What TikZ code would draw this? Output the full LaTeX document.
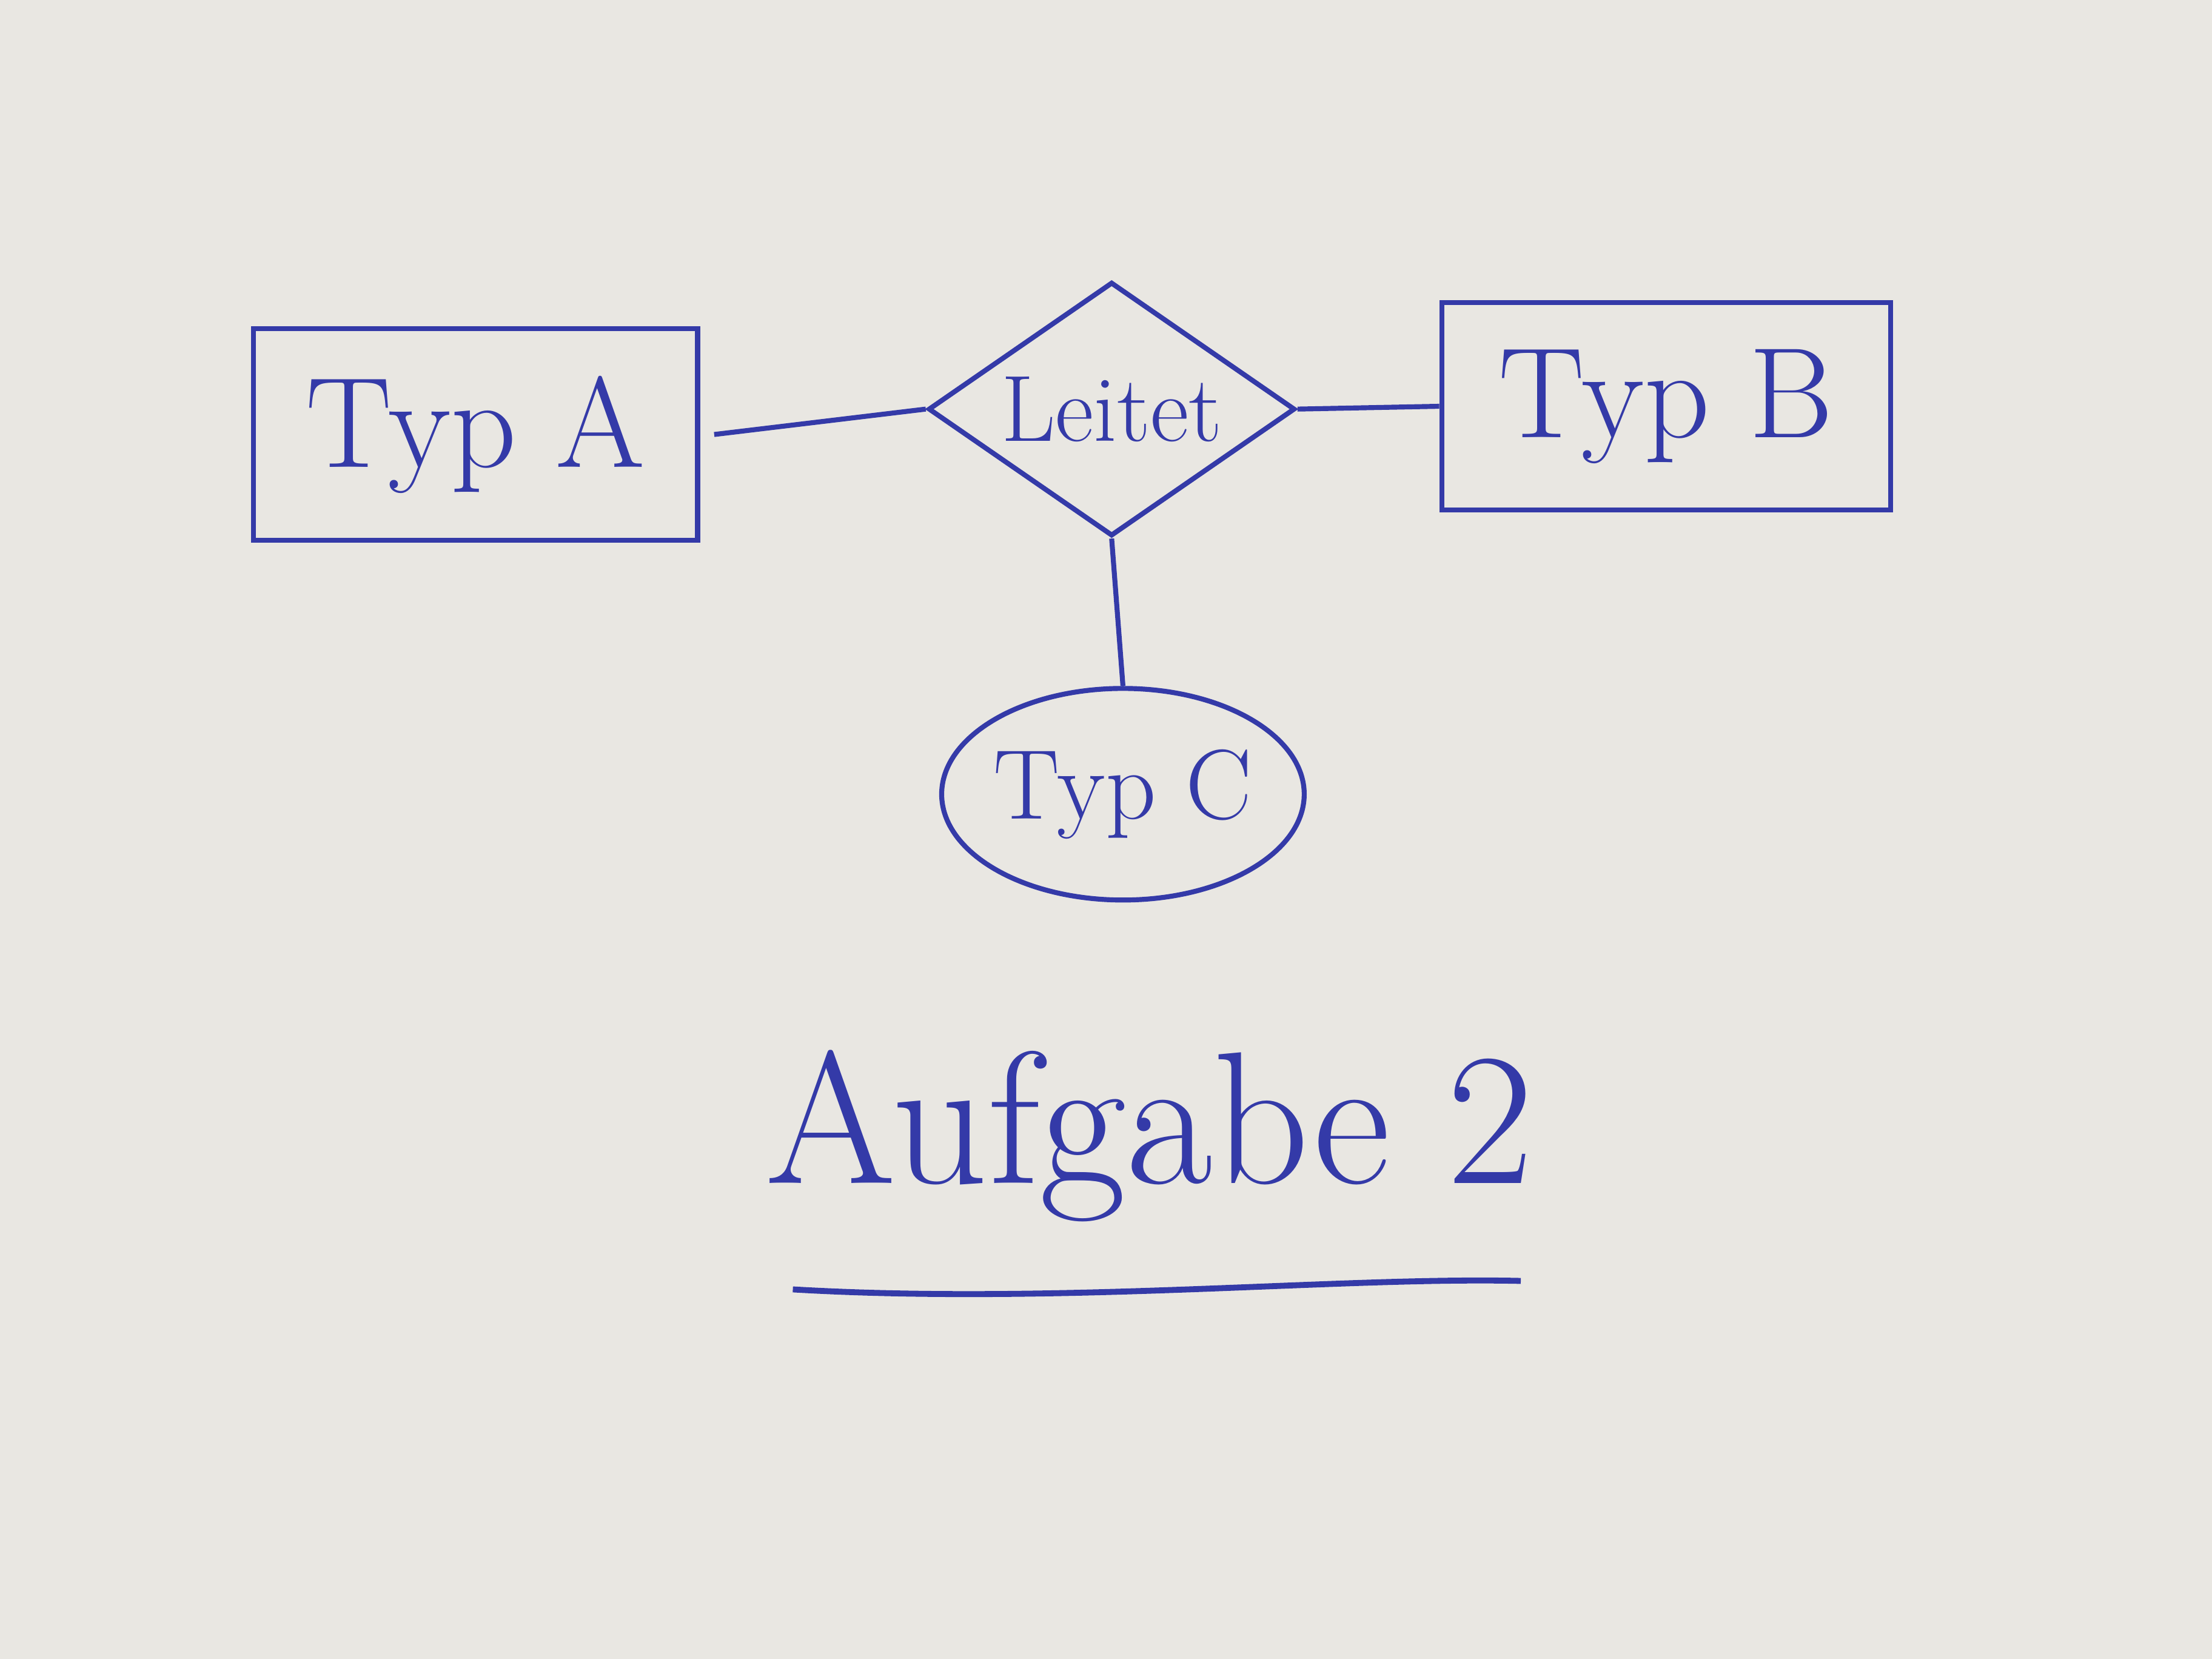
\documentclass[tikz,border=0pt]{standalone}
\usepackage{tikz}
\usetikzlibrary{shapes.geometric}
\definecolor{ink}{RGB}{52,58,168}
\definecolor{paper}{RGB}{233,231,226}

\begin{document}
\begin{tikzpicture}[
		entitybox/.style={draw=ink, line width=1pt, rectangle, minimum width=3.15cm, minimum height=1.5cm, text=ink, font=\fontsize{26}{30}\selectfont},
		relbox/.style={draw=ink, line width=1pt, diamond, aspect=1.43, inner sep=0pt, minimum width=2.6cm, minimum height=1.8cm, text=ink, font=\fontsize{19}{23}\selectfont},
		attrbox/.style={draw=ink, line width=1pt, ellipse, inner xsep=-0.35cm, inner ysep=-0.1cm, minimum width=2.57cm, minimum height=1.5cm, text=ink, font=\fontsize{20}{24}\selectfont},
		link/.style={draw=ink, line width=1pt}
	]
			\fill[paper] (0,0) rectangle (15.68,-11.76);
			\useasboundingbox (0,0) rectangle (15.68,-11.76);
			
			\node[entitybox] (typA) at (3.37,-3.08) {Typ A};
			\node[relbox] (leitet) at (7.88,-2.90) {Leitet};
			\node[entitybox, minimum width=3.18cm, minimum height=1.47cm] (typB) at (11.81,-2.88) {Typ B};
			\node[attrbox] (typC) at (7.96,-5.63) {Typ C};
			
			\draw[link] (typA.east) ++(0.1,0) -- (leitet.west);
			\draw[link] (leitet.east) -- (typB.west);
			\draw[link] (leitet.south) -- (typC.north);
			
			\node[text=ink, font=\fontsize{38}{44}\selectfont] (title) at (8.15,-8.05) {Aufgabe 2};
			\draw[link, line width=1.2pt] (5.62,-9.14) .. controls (7.5,-9.25) and (9.5,-9.05) .. (10.78,-9.08);
		\end{tikzpicture}
\end{document}
